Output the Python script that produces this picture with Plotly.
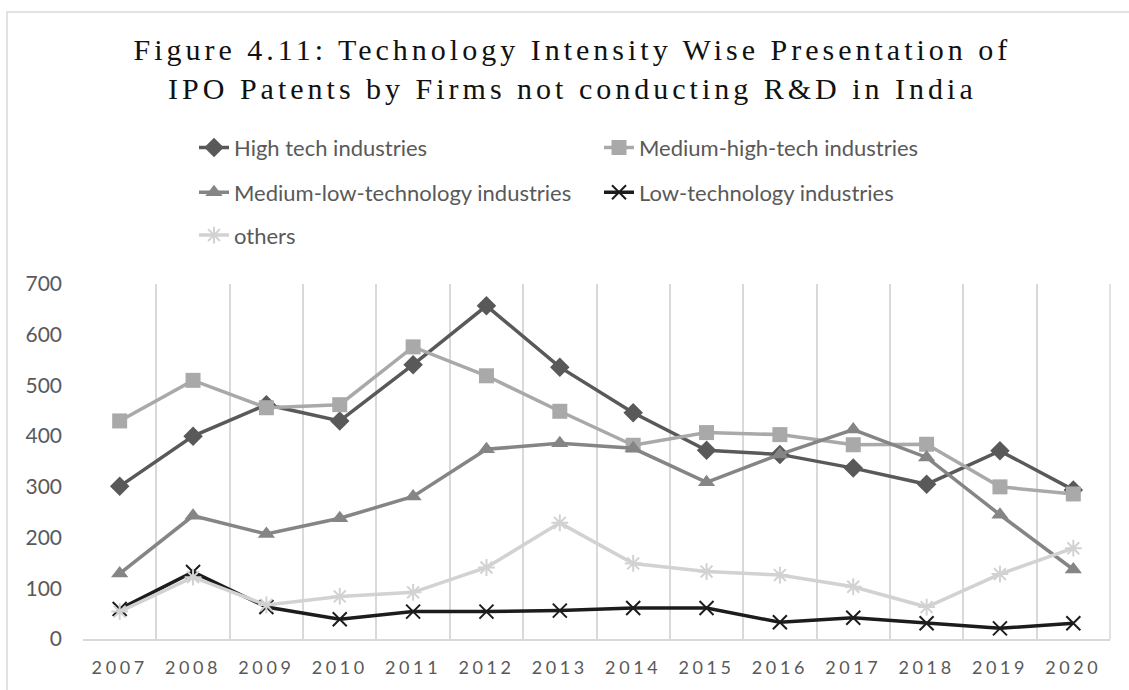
import plotly.graph_objects as go

# Patent counts per year, by technology intensity of the industry
years = [str(y) for y in range(2007, 2021)]
high_tech = [301, 400, 462, 430, 541, 657, 536, 446, 372, 364, 337, 305, 371, 294]
medium_high_tech = [430, 510, 456, 462, 576, 519, 449, 382, 407, 403, 383, 384, 300, 286]
medium_low_tech = [129, 243, 207, 238, 281, 374, 386, 376, 309, 364, 413, 358, 245, 137]
low_tech = [59, 132, 63, 39, 54, 54, 56, 61, 61, 33, 42, 31, 21, 31]
others = [54, 122, 67, 84, 92, 141, 229, 149, 133, 126, 103, 63, 128, 179]

series = [
    ("High tech industries", high_tech, "#595959", "diamond", 15, "legend"),
    ("Medium-high-tech industries", medium_high_tech, "#a9a9a9", "square", 15, "legend"),
    ("Medium-low-technology industries", medium_low_tech, "#858585", "triangle-up", 15, "legend2"),
    ("Low-technology industries", low_tech, "#1c1c1c", "x-thin-open", 14, "legend2"),
    ("others", others, "#d2d2d2", "asterisk-open", 14, "legend3"),
]

fig = go.Figure()
for name, vals, color, sym, size, leg in series:
    open_sym = sym.endswith("open")
    fig.add_trace(go.Scatter(
        x=years, y=vals, name=name, mode="lines+markers",
        line=dict(color=color, width=3.5),
        marker=dict(symbol=sym, size=size, color=color,
                    line=dict(color=color, width=2 if open_sym else 0)),
        legend=leg,
    ))

W, H = 1129, 690
L, R, T, B = 83, 19, 284, 49
pw, ph = W - L - R, H - T - B

def px(x):
    return (x - L) / pw

def py(y):
    return (H - B - y) / ph

text_font = dict(family="Lato, Carlito, Calibri, sans-serif", size=21, color="#595959")
legend_font = dict(text_font, size=22)

legend_common = dict(
    orientation="h", xanchor="left", yanchor="middle",
    font=legend_font, bgcolor="rgba(0,0,0,0)", borderwidth=0,
    entrywidth=360, entrywidthmode="pixels", itemwidth=30,
    traceorder="normal",
)

fig.update_layout(
    width=W, height=H,
    margin=dict(l=L, r=R, t=T, b=B),
    paper_bgcolor="white", plot_bgcolor="white",
    title=dict(
        text="Figure 4.11: Technology Intensity Wise Presentation of<br>IPO Patents by Firms not conducting R&D in India",
        font=dict(family="Liberation Serif, Times New Roman, serif", size=30, color="#111111"),
        x=0.507, xanchor="center", xref="container",
        y=1 - 60 / H, yanchor="top", yref="container",
    ),
    legend=dict(legend_common, x=px(194), y=py(147)),
    legend2=dict(legend_common, x=px(194), y=py(192)),
    legend3=dict(legend_common, x=px(194), y=py(235)),
    xaxis=dict(
        type="category", tickson="boundaries",
        showgrid=True, gridcolor="#d9d9d9", gridwidth=1.5,
        showline=True, linecolor="#d9d9d9", linewidth=1.5,
        ticks="", tickfont=dict(text_font, size=18),
        ticklabelstandoff=12,
        range=[-0.5, 13.5], fixedrange=True,
    ),
    yaxis=dict(
        range=[0, 700], dtick=100, showgrid=False, zeroline=False,
        showline=False, ticks="", tickfont=text_font,
        ticklabelstandoff=20, fixedrange=True,
    ),
    shapes=[
        dict(type="rect", xref="paper", yref="paper",
             x0=px(7), x1=px(1140), y0=py(700), y1=py(10.5),
             line=dict(color="#d9d9d9", width=1.5), fillcolor="rgba(0,0,0,0)",
             layer="below"),
        dict(type="line", xref="paper", yref="paper",
             x0=1, x1=1, y0=0, y1=1,
             line=dict(color="#d9d9d9", width=1.5)),
    ],
)

css = (
    "var s=document.createElement('style');"
    "s.textContent='.gtitle{letter-spacing:4px}.xtick text{letter-spacing:3.6px}';"
    "document.head.appendChild(s);"
)

fig.write_html("out.html", post_script=css, config={"displayModeBar": False})
